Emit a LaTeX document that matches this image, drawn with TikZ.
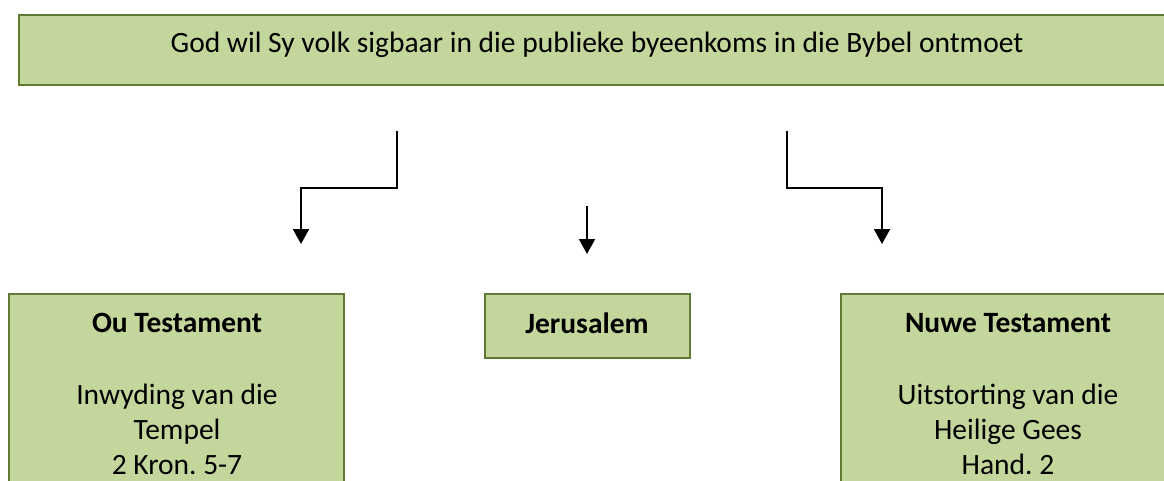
\documentclass[tikz,border=0pt]{standalone}
\usepackage{fontspec}
\setmainfont{Carlito}
\usetikzlibrary{arrows.meta}
\definecolor{boxfill}{HTML}{C3D69B}
\definecolor{boxline}{HTML}{5E7A33}
\frenchspacing
\begin{document}
\frenchspacing
\begin{tikzpicture}[x=1pt,y=-1pt,
  box/.style={draw=boxline, fill=boxfill, line width=2pt, anchor=north west, inner sep=0pt},
  txt/.style={anchor=base, inner sep=0pt, font=\fontsize{29.5}{35}\selectfont},
  btxt/.style={txt, font=\fontsize{29.5}{35}\selectfont\bfseries},
  arr/.style={line width=2pt, -{Triangle[width=16pt,length=15pt]}}]
\useasboundingbox (0,0) rectangle (1164,480);
% top box
\node[box, minimum width=1158pt, minimum height=70pt] (top) at (18,14) {};
\node[txt] (toptext) at (597,52) {God wil Sy volk sigbaar in die publieke byeenkoms in die Bybel ontmoet};
% bottom boxes
\node[box, minimum width=335pt, minimum height=240pt] (ou) at (8,293) {};
\node[btxt] (outitle) at (177,332) {Ou Testament};
\node[txt] (ou1) at (177,404) {Inwyding van die};
\node[txt] (ou2) at (177,439) {Tempel};
\node[txt] (ou3) at (177,474) {2 Kron. 5-7};
\node[box, minimum width=205pt, minimum height=64pt] (jer) at (484,293) {};
\node[btxt] (jertitle) at (587,333) {Jerusalem};
\node[box, minimum width=336pt, minimum height=240pt] (nuwe) at (840,293) {};
\node[btxt] (nuwetitle) at (1008,332) {Nuwe Testament};
\node[txt] (nu1) at (1008,404) {Uitstorting van die};
\node[txt] (nu2) at (1008,439) {Heilige Gees};
\node[txt] (nu3) at (1008,474) {Hand. 2};
% arrows
\coordinate (la) at (397,131);
\coordinate (lb) at (397,188);
\coordinate (lc) at (301,188);
\coordinate (ld) at (301,244);
\coordinate (ma) at (587,206);
\coordinate (mb) at (587,254);
\coordinate (ra) at (787,131);
\coordinate (rb) at (787,188);
\coordinate (rc) at (882,188);
\coordinate (rd) at (882,244);
\draw[arr] (la) -- (lb) -- (lc) -- (ld);
\draw[arr] (ma) -- (mb);
\draw[arr] (ra) -- (rb) -- (rc) -- (rd);
\end{tikzpicture}
\end{document}
